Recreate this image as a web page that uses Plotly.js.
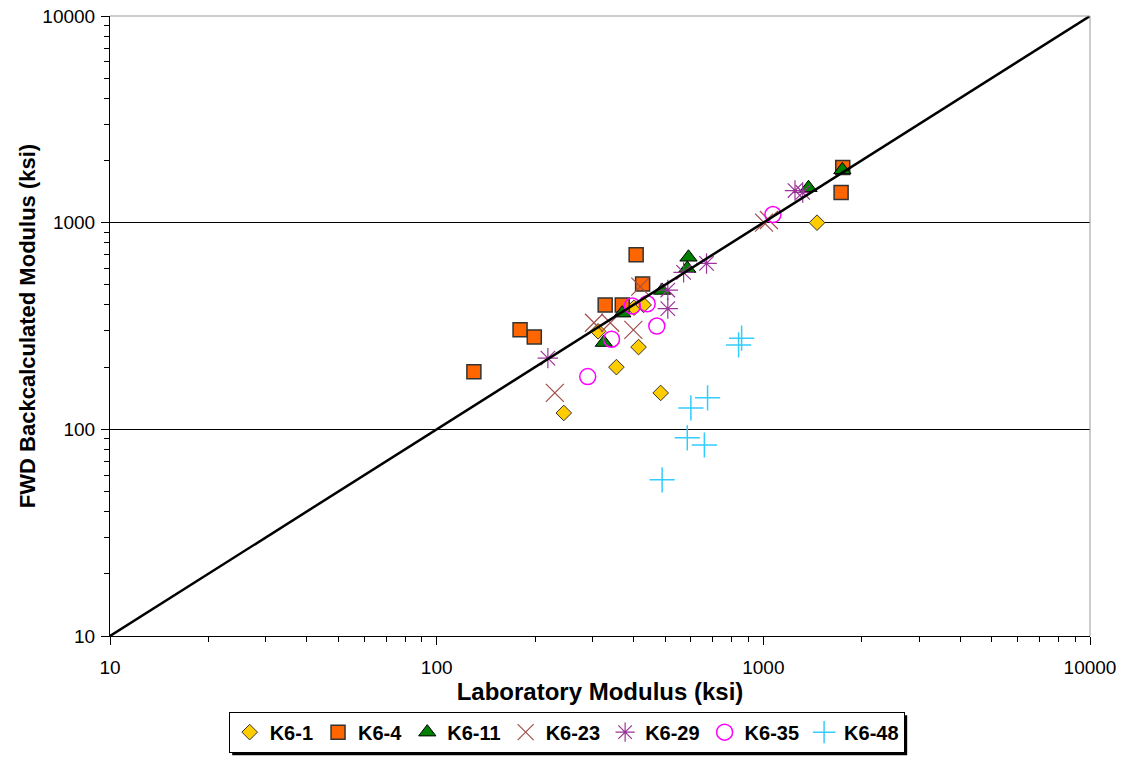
<!DOCTYPE html>
<html><head><meta charset="utf-8">
<script src="https://cdn.plot.ly/plotly-3.0.1.min.js"></script>
<style>html,body{margin:0;padding:0;background:#fff;}#chart{width:1125px;height:757px;}</style>
</head><body><div id="chart"></div>
<script>
// K6-1
var k61Lab = [245, 312, 355, 402, 415, 430, 485, 1460];
var k61Fwd = [120, 298, 200, 388, 250, 400, 150, 1000];
// K6-4
var k64Lab = [130, 180, 199, 328, 370, 408, 427, 1730, 1750];
var k64Fwd = [190, 303, 280, 400, 400, 700, 505, 1400, 1850];
// K6-11
var k611Lab = [325, 370, 490, 585, 590, 1375, 1745];
var k611Fwd = [263, 365, 470, 600, 680, 1475, 1800];
// K6-23
var k623Lab = [230, 303, 340, 400, 420, 1005, 1040];
var k623Fwd = [150, 328, 328, 303, 490, 1000, 1030];
// K6-29
var k629Lab = [219, 510, 510, 570, 670, 1250, 1320];
var k629Fwd = [221, 384, 472, 575, 635, 1430, 1400];
// K6-35
var k635Lab = [290, 343, 397, 441, 472, 1070];
var k635Fwd = [180, 273, 395, 405, 316, 1095];
// K6-48
var k648Lab = [490, 585, 600, 660, 675, 840, 858];
var k648Fwd = [57, 91, 127, 84, 142, 256, 276];
// line of equality
var eqLine = [10, 10000];

var seriesNames = ["K6-1", "K6-4", "K6-11", "K6-23", "K6-29", "K6-35", "K6-48"];
var tickVals = [10, 100, 1000, 10000];
var tickText = ["10", "100", "1000", "10000"];

var F = "Liberation Sans, Arial, sans-serif";

function sc(name, x, y, marker) {
  return {type: "scatter", mode: "markers", name: name, x: x, y: y, marker: marker, cliponaxis: false};
}

var traces = [
  sc(seriesNames[0], k61Lab, k61Fwd, {symbol: "diamond", size: 12, color: "#FFCC00", line: {color: "#333333", width: 1}}),
  sc(seriesNames[1], k64Lab, k64Fwd, {symbol: "square", size: 14, color: "#FF6600", line: {color: "#333333", width: 1.5}}),
  sc(seriesNames[2], k611Lab, k611Fwd, {symbol: "triangle-up", size: 15, color: "#007F00", line: {color: "#000000", width: 1}}),
  sc(seriesNames[3], k623Lab, k623Fwd, {symbol: "x-thin-open", size: 18, color: "#A0504D", line: {color: "#A0504D", width: 1.2}}),
  sc(seriesNames[4], k629Lab, k629Fwd, {symbol: "asterisk-open", size: 17, color: "#993399", line: {color: "#993399", width: 1.2}}),
  sc(seriesNames[5], k635Lab, k635Fwd, {symbol: "circle-open", size: 16, color: "#FF00FF", line: {color: "#FF00FF", width: 1.5}}),
  sc(seriesNames[6], k648Lab, k648Fwd, {symbol: "cross-thin-open", size: 18, color: "#33CCFF", line: {color: "#33CCFF", width: 1.5}}),
  {type: "scatter", mode: "lines", x: eqLine, y: eqLine, showlegend: false, hoverinfo: "skip",
   line: {color: "#000000", width: 2.5}}
];

function axis(title, tsize, standoff) {
  return {
    type: "log", range: [1, 4],
    tickvals: tickVals, ticktext: tickText,
    ticks: "outside", ticklen: 8, tickwidth: 1, tickcolor: "#000",
    minor: {ticks: "outside", ticklen: 5, tickwidth: 1, tickcolor: "#000", dtick: "D1", showgrid: false},
    showline: true, linecolor: "#000", linewidth: 1,
    tickfont: {family: F, size: 19, color: "#000"},
    zeroline: false, automargin: true,
    title: {text: title, font: {family: F, size: tsize, color: "#000"}, standoff: standoff}
  };
}

var xa = axis("<b>Laboratory Modulus (ksi)</b>", 24, 6);
xa.showgrid = false;
xa.ticklabelstandoff = 6;
var ya = axis("<b>FWD Backcalculated Modulus (ksi)</b>", 22, 0);
ya.showgrid = true; ya.gridcolor = "#000"; ya.gridwidth = 1;
ya.ticklabelstandoff = 2;

var layout = {
  width: 1125, height: 757,
  margin: {l: 110, r: 35, t: 16, b: 121, autoexpand: false},
  paper_bgcolor: "#fff", plot_bgcolor: "#fff",
  showlegend: true,
  xaxis: xa, yaxis: ya,
  legend: {
    orientation: "h", x: 0.466, xanchor: "center", y: -0.122, yanchor: "top",
    bordercolor: "#000", borderwidth: 1, bgcolor: "#fff",
    font: {family: F, size: 20, color: "#000", weight: "bold"},
    itemwidth: 30, tracegroupgap: 0
  },
  shapes: [
    {type: "line", xref: "paper", yref: "paper", x0: 0, x1: 1, y0: 1, y1: 1, line: {color: "#999999", width: 1}, layer: "above"},
    {type: "line", xref: "paper", yref: "paper", x0: 1, x1: 1, y0: 0, y1: 1, line: {color: "#999999", width: 1}, layer: "above"}
  ]
};

Plotly.newPlot("chart", traces, layout, {displayModeBar: false, staticPlot: true}).then(function (gd) {
  // legend drop shadow, placed from the legend's rendered box
  var bg = gd.querySelector(".legend .bg");
  if (!bg) return;
  var r = bg.getBoundingClientRect();
  var c = gd.getBoundingClientRect();
  var fl = gd._fullLayout;
  var ox = fl._size.l, oy = fl._size.t, pw = fl._size.w, ph = fl._size.h;
  function px2x(p) { return (p - c.left - ox) / pw; }
  function py2y(p) { return 1 - (p - c.top - oy) / ph; }
  var sh = layout.shapes.slice();
  sh.push({type: "rect", xref: "paper", yref: "paper", layer: "below",
    x0: px2x(r.left + 3), x1: px2x(r.right + 3), y0: py2y(r.bottom + 3), y1: py2y(r.top + 3),
    fillcolor: "#000", line: {width: 0}});
  Plotly.relayout(gd, {shapes: sh});
});
</script>
</body></html>
